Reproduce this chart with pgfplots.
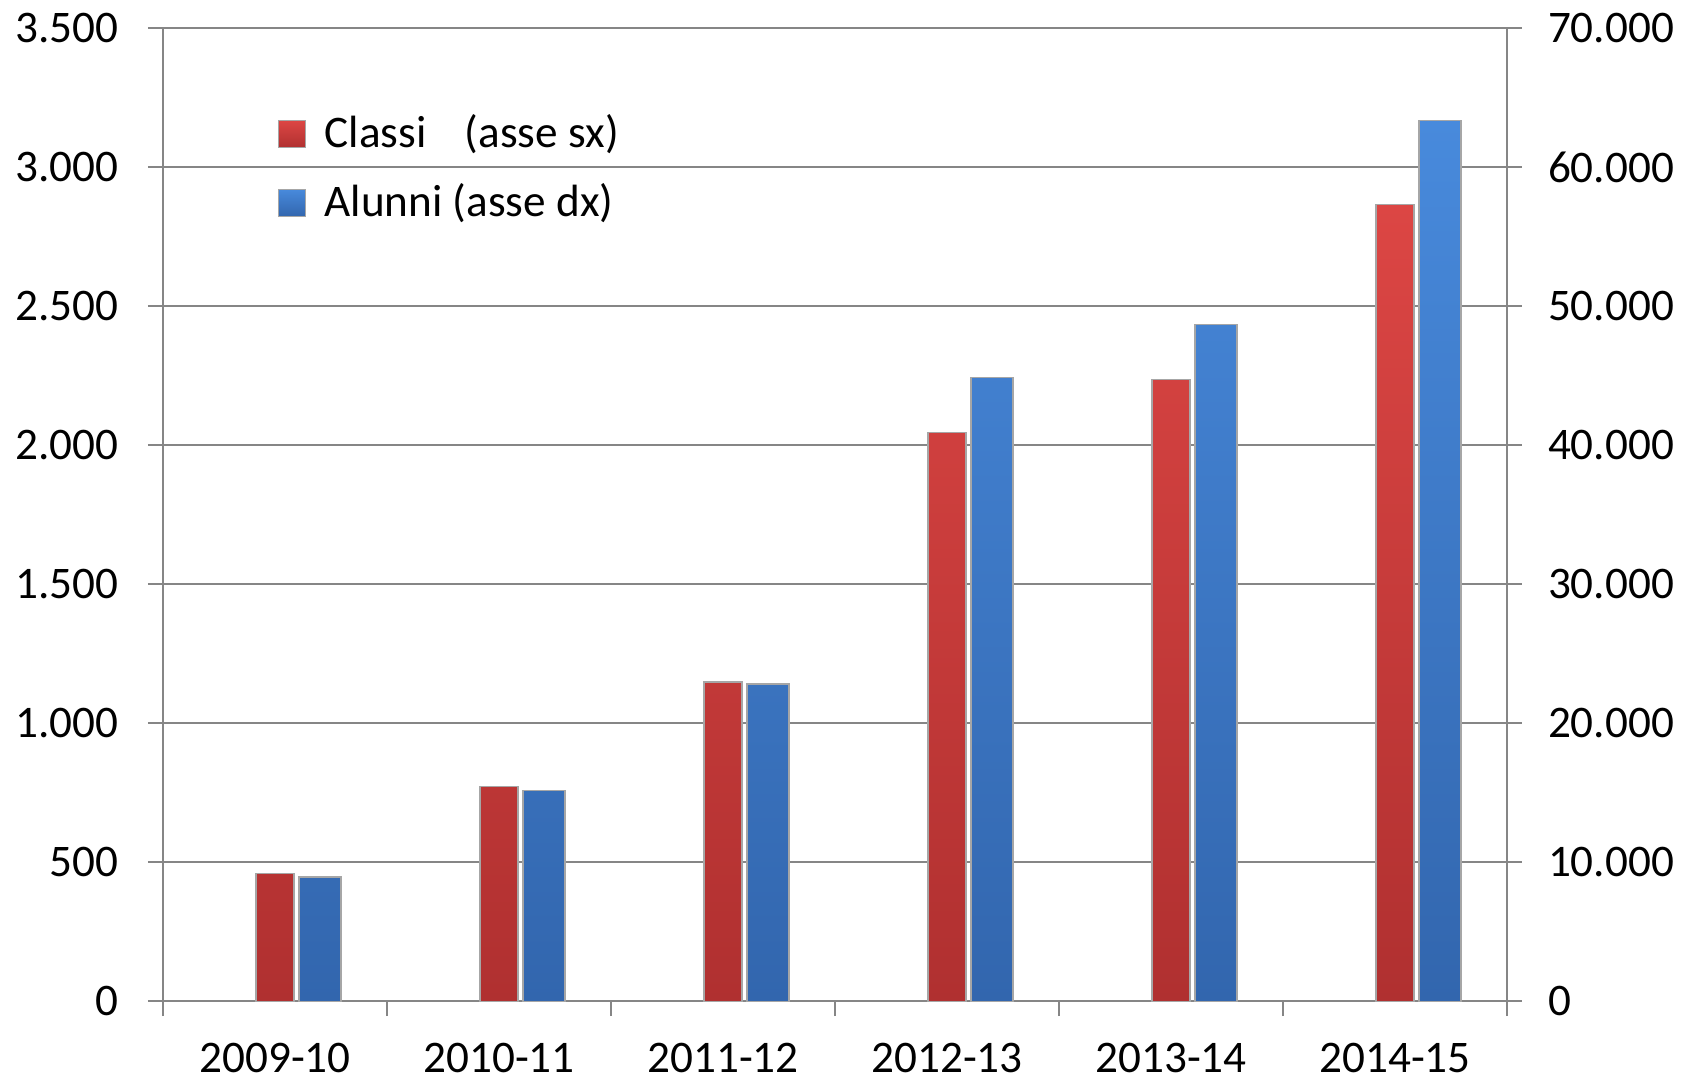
\documentclass[border=0pt]{standalone}
\usepackage{fontspec}
\setmainfont{Carlito}
\usepackage{pgfplots}
\pgfplotsset{compat=1.18}
\definecolor{redT}{RGB}{220,70,68}
\definecolor{redB}{RGB}{176,48,48}
\definecolor{bluT}{RGB}{72,138,220}
\definecolor{bluB}{RGB}{50,102,174}
\definecolor{gridc}{RGB}{134,134,134}
\begin{document}
\begin{tikzpicture}[font=\fontsize{11.3bp}{13.5bp}\selectfont]
\pgfplotsset{
  common/.style={
    scale only axis, width=336bp, height=243.25bp,
    xmin=-0.5, xmax=5.5, ymin=0,
    axis line style={gridc, line width=0.5bp},
    tick style={gridc, line width=0.5bp},
    tick align=outside, major tick length=3.75bp,
    /pgf/number format/.cd, 1000 sep={.}, assume math mode=true, /pgfplots/.cd,
    scaled y ticks=false,
    tick label style={font=\fontsize{11.3bp}{13.5bp}\selectfont},
  }
}
\begin{axis}[common, name=main,
  axis x line*=bottom, axis y line*=left,
  ymax=3500, ytick={0,500,1000,1500,2000,2500,3000,3500},
  ymajorgrids, grid style={gridc, line width=0.4bp},
  xtick={-0.5,0.5,1.5,2.5,3.5,4.5,5.5}, xticklabels={},
  extra x ticks={0,1,2,3,4,5},
  extra x tick labels={2009-10,2010-11,2011-12,2012-13,2013-14,2014-15},
  extra x tick style={major tick length=0pt, grid=none},
  yticklabel style={xshift=-3.8bp},
  xticklabel style={inner sep=0pt, yshift=-10.4bp},
]
\addplot[ybar, bar width=9.5bp, bar shift=0pt, draw=gray!70, line width=0.3bp,
  top color=redT, bottom color=redB]
  coordinates {(0,458) (1,773) (2,1148) (3,2046) (4,2237) (5,2865)};
\end{axis}
\begin{axis}[common,
  axis x line=none, axis y line*=right,
  ymax=70000, ytick={0,10000,20000,30000,40000,50000,60000,70000},
  yticklabel style={xshift=3bp},
  legend image code/.code={\draw[#1] (0bp,-3.375bp) rectangle (6.75bp,3.375bp);},
  legend style={draw=none, fill=none, at={(0.085,0.92)}, anchor=north west,
    font=\fontsize{11.3bp}{13.5bp}\selectfont, row sep=3.4bp, column sep=2.6bp,
    inner sep=0pt},
  legend cell align=left,
]
\addlegendimage{draw=gray!70, line width=0.3bp, top color=redT, bottom color=redB}
\addlegendentry{Classi\hspace{0.85em}(asse sx)}
\addplot[ybar, bar width=10.5bp, bar shift=11.25bp, draw=gray!70, line width=0.3bp,
  top color=bluT, bottom color=bluB]
  coordinates {(0,8930) (1,15156) (2,22813) (3,44844) (4,48672) (5,63340)};
\addlegendentry{Alunni (asse dx)}
\end{axis}
\path ([shift={(-40.75bp,-20.5bp)}]main.south west) rectangle ([shift={(384.25bp,250.25bp)}]main.south west);
\end{tikzpicture}
\end{document}
